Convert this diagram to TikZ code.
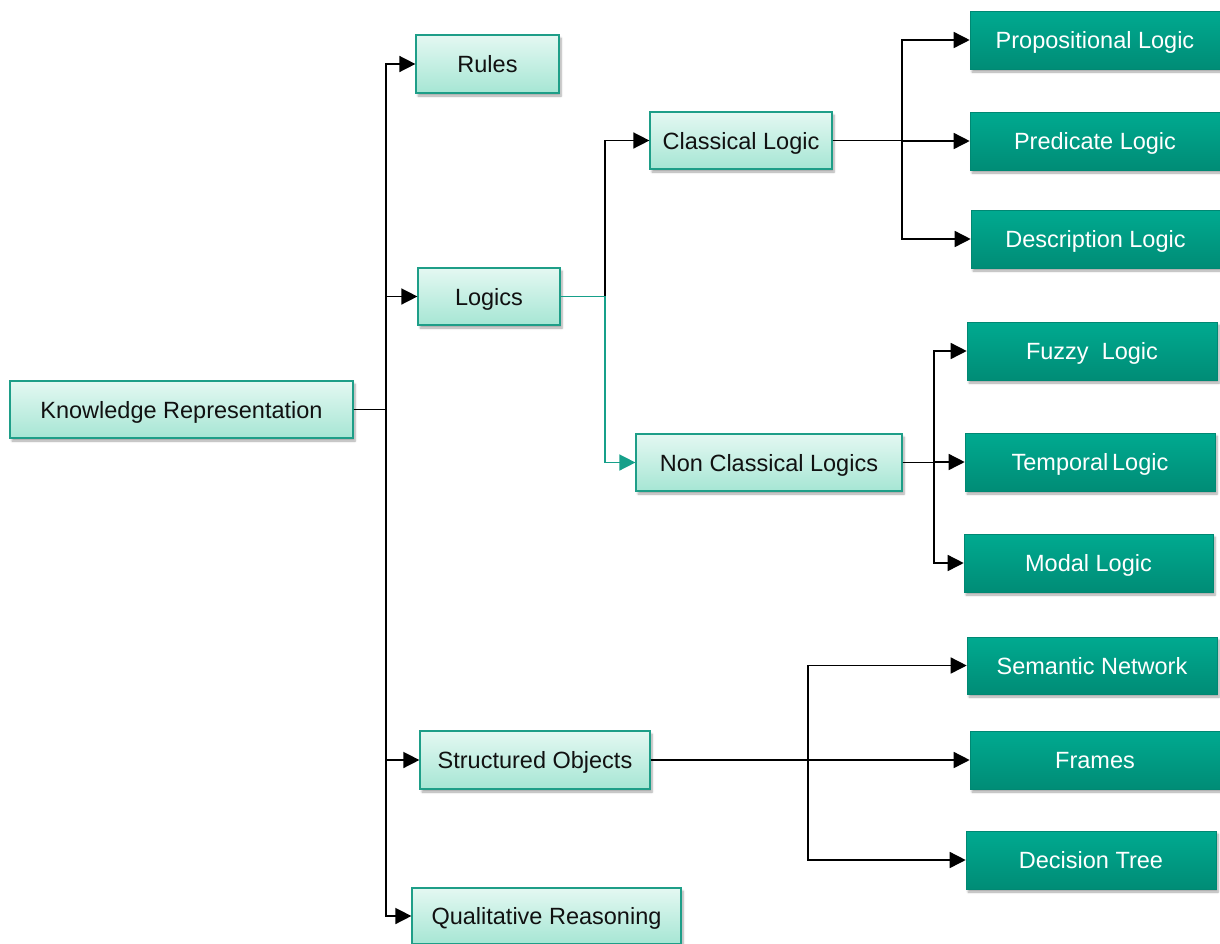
\documentclass[tikz,border=0pt]{standalone}
\usepackage{fontspec}
\setmainfont{Liberation Sans}
\usetikzlibrary{arrows.meta,shadows.blur}

\definecolor{lighttop}{HTML}{E4F8F2}
\definecolor{lightbot}{HTML}{A6E6D4}
\definecolor{lightedge}{HTML}{1E9E88}
\definecolor{darktop}{HTML}{00AA90}
\definecolor{darkbot}{HTML}{008C76}
\definecolor{tealline}{HTML}{16A08A}
\definecolor{ink}{HTML}{111111}

\tikzset{
  boxbase/.style={rectangle, inner sep=0pt, font=\fontsize{23.5}{28}\selectfont,
    text height=17pt, text depth=0pt,
    blur shadow={shadow xshift=2pt, shadow yshift=-3pt, shadow blur steps=6, shadow opacity=35}},
  lbox/.style={boxbase, draw=lightedge, line width=1.2pt, top color=lighttop, bottom color=lightbot, text=ink},
  dbox/.style={boxbase, draw=darktop!80!black, line width=0.6pt, top color=darktop, bottom color=darkbot, text=white},
  wire/.style={line width=1.5pt, black},
  arrow/.style={wire, -{Triangle[length=16pt,width=16pt]}},
  tealarrow/.style={line width=1.5pt, tealline, -{Triangle[length=16pt,width=16pt]}},
}

\begin{document}
\begin{tikzpicture}[x=1pt,y=-1pt]
\useasboundingbox (0,0) rectangle (1220,943);

% first level
\node[lbox, minimum width=343, minimum height=57] (kr) at (181.5,409.5) {Knowledge Representation};
\node[lbox, minimum width=143, minimum height=58] (rules) at (487.5,64) {Rules};
\node[lbox, minimum width=142, minimum height=57] (logics) at (489,296.5) {Logics};
\node[lbox, minimum width=230, minimum height=58] (so) at (535,760) {Structured Objects};
\node[lbox, minimum width=269, minimum height=56] (qr) at (546.5,916) {Qualitative Reasoning};

% second level
\node[lbox, minimum width=182, minimum height=57] (cl) at (741,140.5) {Classical Logic};
\node[lbox, minimum width=266, minimum height=57] (ncl) at (769,462.5) {Non Classical Logics};

% leaves
\node[dbox, minimum width=250, minimum height=58] (prop) at (1095,40) {Propositional Logic};
\node[dbox, minimum width=250, minimum height=58] (pred) at (1095,141) {Predicate Logic};
\node[dbox, minimum width=249, minimum height=58] (desc) at (1095.5,239) {Description Logic};
\node[dbox, minimum width=250, minimum height=58] (fuzzy) at (1092,351) {Fuzzy~ Logic};
\node[dbox, minimum width=250, minimum height=58] (temp) at (1090,462) {Temporal\,Logic};
\node[dbox, minimum width=249, minimum height=58] (modal) at (1088.5,563) {Modal Logic};
\node[dbox, minimum width=250, minimum height=57] (sem) at (1092,665.5) {Semantic Network};
\node[dbox, minimum width=250, minimum height=58] (frames) at (1095,760) {Frames};
\node[dbox, minimum width=250, minimum height=58] (dec) at (1091,860) {Decision Tree};

% bus positions
\coordinate (busA) at (386,0);
\coordinate (busB) at (605,0);
\coordinate (busC) at (902,0);
\coordinate (busD) at (934,0);
\coordinate (busE) at (808,0);

% Knowledge Representation -> first level
\foreach \t in {rules,logics,so,qr}
  \draw[arrow] (kr.east) -- (kr.east -| busA) |- (\t.west);

% Logics -> Classical / Non Classical
\draw[arrow] (logics.east) -- (logics.east -| busB) |- (cl.west);
\draw[tealarrow] (logics.east) -- (logics.east -| busB) |- (ncl.west);

% Classical Logic -> leaves
\foreach \t in {prop,pred,desc}
  \draw[arrow] (cl.east) -- (cl.east -| busC) |- (\t.west);

% Non Classical Logics -> leaves
\foreach \t in {fuzzy,temp,modal}
  \draw[arrow] (ncl.east) -- (ncl.east -| busD) |- (\t.west);

% Structured Objects -> leaves
\foreach \t in {sem,frames,dec}
  \draw[arrow] (so.east) -- (so.east -| busE) |- (\t.west);
\end{tikzpicture}
\end{document}
